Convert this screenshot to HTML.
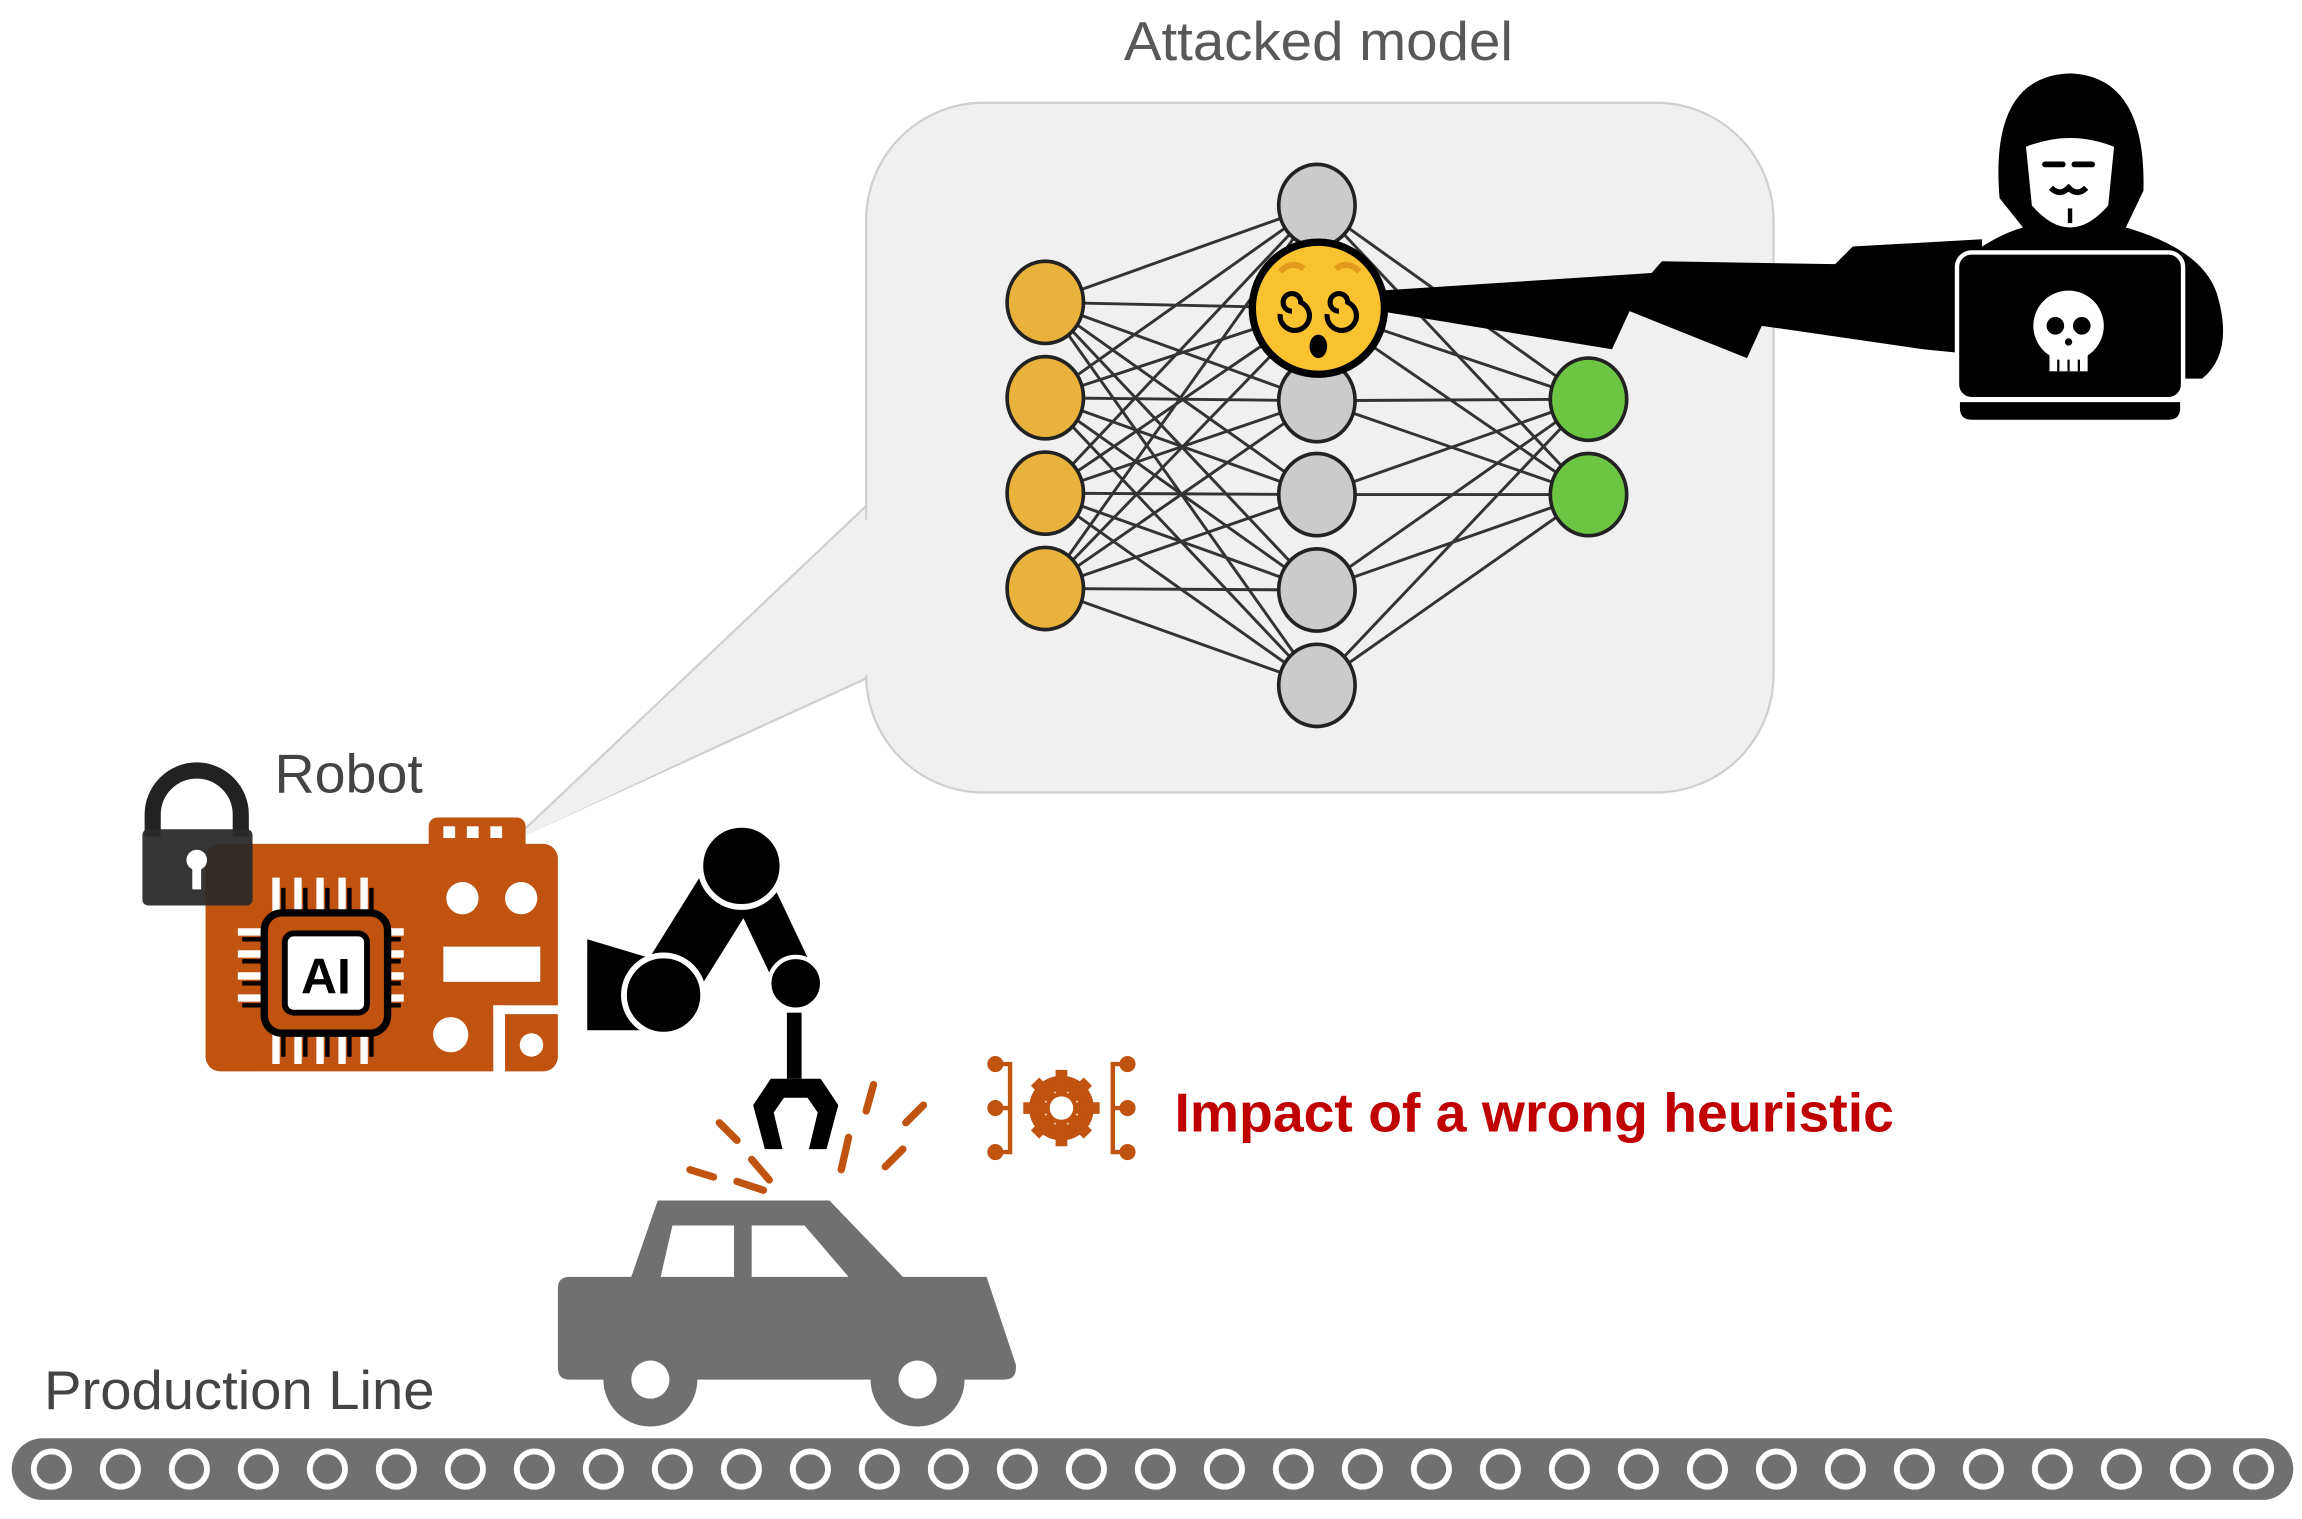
<!DOCTYPE html>
<html><head><meta charset="utf-8"><style>
html,body{margin:0;padding:0;background:#fff;}
svg{display:block;}
text{font-family:"Liberation Sans",sans-serif;}
</style></head><body>
<svg width="2302" height="1519" viewBox="0 0 1568 1035" preserveAspectRatio="none" xmlns="http://www.w3.org/2000/svg">
<rect width="1568" height="1035" fill="#fff"/>
<!-- bubble tail -->
<polygon points="350,572 595,340 595,460" fill="#f0f0f0" stroke="#cfcfcf" stroke-width="1.5"/>
<rect x="590" y="70" width="618" height="470" rx="80" fill="#f0f0f0" stroke="#cfcfcf" stroke-width="1.5"/>
<polygon points="352,572 600,345 600,455" fill="#f0f0f0"/>
<text x="898" y="41" font-size="37" fill="#595959" text-anchor="middle" textLength="265" lengthAdjust="spacingAndGlyphs">Attacked model</text>
<!-- network lines -->
<g stroke="#333" stroke-width="2">
<line x1="712" y1="206" x2="897" y2="140"/><line x1="712" y1="206" x2="897" y2="210"/><line x1="712" y1="206" x2="897" y2="273"/><line x1="712" y1="206" x2="897" y2="337"/><line x1="712" y1="206" x2="897" y2="402"/><line x1="712" y1="206" x2="897" y2="467"/>
<line x1="712" y1="271" x2="897" y2="140"/><line x1="712" y1="271" x2="897" y2="210"/><line x1="712" y1="271" x2="897" y2="273"/><line x1="712" y1="271" x2="897" y2="337"/><line x1="712" y1="271" x2="897" y2="402"/><line x1="712" y1="271" x2="897" y2="467"/>
<line x1="712" y1="336" x2="897" y2="140"/><line x1="712" y1="336" x2="897" y2="210"/><line x1="712" y1="336" x2="897" y2="273"/><line x1="712" y1="336" x2="897" y2="337"/><line x1="712" y1="336" x2="897" y2="402"/><line x1="712" y1="336" x2="897" y2="467"/>
<line x1="712" y1="401" x2="897" y2="140"/><line x1="712" y1="401" x2="897" y2="210"/><line x1="712" y1="401" x2="897" y2="273"/><line x1="712" y1="401" x2="897" y2="337"/><line x1="712" y1="401" x2="897" y2="402"/><line x1="712" y1="401" x2="897" y2="467"/>
<line x1="897" y1="140" x2="1082" y2="272"/><line x1="897" y1="140" x2="1082" y2="337"/>
<line x1="897" y1="210" x2="1082" y2="272"/><line x1="897" y1="210" x2="1082" y2="337"/>
<line x1="897" y1="273" x2="1082" y2="272"/><line x1="897" y1="273" x2="1082" y2="337"/>
<line x1="897" y1="337" x2="1082" y2="272"/><line x1="897" y1="337" x2="1082" y2="337"/>
<line x1="897" y1="402" x2="1082" y2="272"/><line x1="897" y1="402" x2="1082" y2="337"/>
<line x1="897" y1="467" x2="1082" y2="272"/><line x1="897" y1="467" x2="1082" y2="337"/>
</g>
<g stroke="#222" stroke-width="2.5">
<ellipse cx="712" cy="206" rx="26" ry="28" fill="#e8b23c"/>
<ellipse cx="712" cy="271" rx="26" ry="28" fill="#e8b23c"/>
<ellipse cx="712" cy="336" rx="26" ry="28" fill="#e8b23c"/>
<ellipse cx="712" cy="401" rx="26" ry="28" fill="#e8b23c"/>
<ellipse cx="897" cy="140" rx="26" ry="28" fill="#cbcbcb"/>
<ellipse cx="897" cy="273" rx="26" ry="28" fill="#cbcbcb"/>
<ellipse cx="897" cy="337" rx="26" ry="28" fill="#cbcbcb"/>
<ellipse cx="897" cy="402" rx="26" ry="28" fill="#cbcbcb"/>
<ellipse cx="897" cy="467" rx="26" ry="28" fill="#cbcbcb"/>
<ellipse cx="1082" cy="272" rx="26" ry="28" fill="#6cc644"/>
<ellipse cx="1082" cy="337" rx="26" ry="28" fill="#6cc644"/>
</g>
<!-- lightning -->
<polygon points="940,198 1125,186 1132,178 1250,180 1262,168 1350,163 1350,242 1310,238 1200,222 1190,244 1110,212 1098,238 940,212" fill="#000"/>
<!-- emoji -->
<circle cx="898" cy="210" r="45" fill="#f9c22e" stroke="#000" stroke-width="5"/>
<path d="M872 185 q8-8 16-2 M910 183 q8-6 16 2" stroke="#e39a1c" stroke-width="4" fill="none"/>
<path d="M880 212 a6 6 0 1 1 6 -6 a10 10 0 1 1 -14 8 M912 212 a6 6 0 1 1 6 -6 a10 10 0 1 1 -14 8" stroke="#000" stroke-width="3.5" fill="none"/>
<ellipse cx="898" cy="236" rx="6" ry="8" fill="#000"/>
<!-- hacker -->
<path d="M1340 175 Q1360 160 1378 155 L1362 135 Q1355 52 1410 50 Q1462 52 1460 130 L1448 155 Q1500 170 1510 200 Q1522 240 1500 258 L1335 258 Z" fill="#000"/>
<path d="M1380 100 Q1410 88 1440 100 L1436 140 Q1410 170 1384 140 Z" fill="#fff"/>
<path d="M1393 112 h12 M1413 112 h12" stroke="#000" stroke-width="4" stroke-linecap="round"/>
<path d="M1397 128 q6 6 12 0 q6 6 12 0" stroke="#000" stroke-width="4" fill="none"/>
<path d="M1410 142 v10" stroke="#000" stroke-width="3"/>
<rect x="1333" y="172" width="154" height="100" rx="10" fill="#000" stroke="#fff" stroke-width="3"/>
<path d="M1335 274 h150 v4 q0 8 -8 8 h-134 q-8 0 -8 -8 z" fill="#000"/>
<circle cx="1409" cy="222" r="24" fill="#fff"/>
<rect x="1396" y="235" width="26" height="18" fill="#fff"/>
<circle cx="1400" cy="222" r="6" fill="#000"/><circle cx="1418" cy="222" r="6" fill="#000"/>
<circle cx="1409" cy="233" r="2.5" fill="#000"/>
<path d="M1402 245 v8 M1409 245 v8 M1416 245 v8" stroke="#000" stroke-width="1.5"/>
<!-- robot label, lock -->
<text x="187" y="540" font-size="37" fill="#444" textLength="101" lengthAdjust="spacingAndGlyphs">Robot</text>
<!-- board -->
<rect x="292" y="557" width="66" height="30" rx="6" fill="#c0530f"/>
<rect x="302" y="563" width="8" height="8" fill="#fff"/><rect x="318" y="563" width="8" height="8" fill="#fff"/><rect x="334" y="563" width="8" height="8" fill="#fff"/>
<rect x="140" y="575" width="240" height="155" rx="10" fill="#c0530f"/>
<rect x="336" y="685" width="8" height="48" fill="#fff"/>
<rect x="336" y="685" width="46" height="6" fill="#fff"/>
<circle cx="315" cy="612" r="11" fill="#fff"/><circle cx="355" cy="612" r="11" fill="#fff"/>
<rect x="302" y="645" width="66" height="24" fill="#fff"/>
<circle cx="307" cy="705" r="12" fill="#fff"/><circle cx="362" cy="712" r="8" fill="#fff"/>
<g stroke="#fff" stroke-width="5">
<path d="M188 598v25M203 598v25M218 598v25M233 598v25M248 598v25M188 700v25M203 700v25M218 700v25M233 700v25M248 700v25M162 635h25M162 650h25M162 665h25M162 680h25M250 635h25M250 650h25M250 665h25M250 680h25"/>
</g>
<g stroke="#000" stroke-width="3">
<path d="M193 605v20M208 605v20M223 605v20M238 605v20M253 605v20M193 700v20M208 700v20M223 700v20M238 700v20M253 700v20M165 640h20M165 655h20M165 670h20M165 685h20M253 640h20M253 655h20M253 670h20M253 685h20"/>
</g>
<rect x="180" y="622" width="84" height="82" rx="12" fill="#c0530f" stroke="#000" stroke-width="5"/>
<rect x="194" y="636" width="56" height="54" rx="6" fill="#fff" stroke="#000" stroke-width="4"/>
<text x="222" y="677" font-size="34" font-weight="bold" text-anchor="middle" fill="#000">AI</text>
<path d="M104 570 v-15 a30 30 0 0 1 60 0 v15" fill="none" stroke="#222" stroke-width="11"/>
<rect x="97" y="565" width="75" height="52" rx="4" fill="#2a2a2a" fill-opacity="0.95"/>
<circle cx="134" cy="586" r="7" fill="#fff"/><rect x="131" y="588" width="6" height="18" fill="#fff"/>
<!-- arm -->
<polygon points="400,640 440,652 440,702 400,702" fill="#000"/>
<line x1="452" y1="675" x2="505" y2="590" stroke="#000" stroke-width="40"/>
<line x1="505" y1="590" x2="542" y2="668" stroke="#000" stroke-width="28"/>
<circle cx="452" cy="678" r="27" fill="#000" stroke="#fff" stroke-width="4"/>
<circle cx="505" cy="590" r="28" fill="#000" stroke="#fff" stroke-width="4"/>
<circle cx="542" cy="670" r="18" fill="#000" stroke="#fff" stroke-width="3"/>
<rect x="536" y="690" width="10" height="45" fill="#000"/>
<path d="M525 735 h34 l12 18 l-8 30 h-12 l6 -25 l-7 -10 h-16 l-7 10 l6 25 h-12 l-8 -30 z" fill="#000"/>
<!-- sparks -->
<g stroke="#c0530f" stroke-width="5" stroke-linecap="round">
<path d="M490 765 l12 12 M512 790 l12 14 M470 797 l16 5 M502 805 l18 6 M578 775 l-5 22 M590 757 l5 -18 M603 795 l12 -12 M617 765 l12 -12"/>
</g>
<!-- car -->
<path d="M380 878 q0 -8 8 -8 h42 l18 -52 h117 l50 52 h57 l20 60 v2 q0 8 -8 8 h-296 q-8 0 -8 -8 z" fill="#707070"/>
<polygon points="458,835 500,835 500,870 450,870" fill="#fff"/>
<polygon points="512,835 548,835 578,870 512,870" fill="#fff"/>
<circle cx="443" cy="940" r="32" fill="#707070"/><circle cx="443" cy="940" r="13" fill="#fff"/>
<circle cx="625" cy="940" r="32" fill="#707070"/><circle cx="625" cy="940" r="13" fill="#fff"/>
<!-- production line -->
<text x="30" y="960" font-size="37" fill="#444" textLength="266" lengthAdjust="spacingAndGlyphs">Production Line</text>
<rect x="8" y="980" width="1554" height="42" rx="21" fill="#707070"/>
<g fill="none" stroke="#fff" stroke-width="4">
<circle cx="35" cy="1001" r="12"/><circle cx="82" cy="1001" r="12"/><circle cx="129" cy="1001" r="12"/><circle cx="176" cy="1001" r="12"/><circle cx="223" cy="1001" r="12"/><circle cx="270" cy="1001" r="12"/><circle cx="317" cy="1001" r="12"/><circle cx="364" cy="1001" r="12"/><circle cx="411" cy="1001" r="12"/><circle cx="458" cy="1001" r="12"/><circle cx="505" cy="1001" r="12"/><circle cx="552" cy="1001" r="12"/><circle cx="599" cy="1001" r="12"/><circle cx="646" cy="1001" r="12"/><circle cx="693" cy="1001" r="12"/><circle cx="740" cy="1001" r="12"/><circle cx="787" cy="1001" r="12"/><circle cx="834" cy="1001" r="12"/><circle cx="881" cy="1001" r="12"/><circle cx="928" cy="1001" r="12"/><circle cx="975" cy="1001" r="12"/><circle cx="1022" cy="1001" r="12"/><circle cx="1069" cy="1001" r="12"/><circle cx="1116" cy="1001" r="12"/><circle cx="1163" cy="1001" r="12"/><circle cx="1210" cy="1001" r="12"/><circle cx="1257" cy="1001" r="12"/><circle cx="1304" cy="1001" r="12"/><circle cx="1351" cy="1001" r="12"/><circle cx="1398" cy="1001" r="12"/><circle cx="1445" cy="1001" r="12"/><circle cx="1492" cy="1001" r="12"/><circle cx="1535" cy="1001" r="12"/>
</g>
<!-- impact icon -->
<g stroke="#c0530f" stroke-width="3" fill="#c0530f">
<path d="M678 725 h10 v60 h-10 M678 755 h10 M768 725 h-10 v60 h10 M768 755 h-10" fill="none"/>
<circle cx="678" cy="725" r="4"/><circle cx="678" cy="755" r="4"/><circle cx="678" cy="785" r="4"/>
<circle cx="768" cy="725" r="4"/><circle cx="768" cy="755" r="4"/><circle cx="768" cy="785" r="4"/>
</g>
<circle cx="723" cy="755" r="17" fill="none" stroke="#c0530f" stroke-width="10"/>
<g stroke="#c0530f" stroke-width="8">
<path d="M723 729v52M697 755h52M705 737l36 36M741 737l-36 36"/>
</g>
<circle cx="723" cy="755" r="8" fill="#fff"/>
<text x="800" y="771" font-size="37" font-weight="bold" fill="#c00000" textLength="490" lengthAdjust="spacingAndGlyphs">Impact of a wrong heuristic</text>
</svg>
</body></html>
